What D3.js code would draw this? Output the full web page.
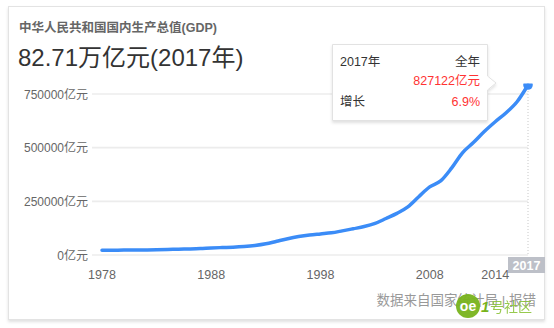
<!DOCTYPE html>
<html><head><meta charset="utf-8">
<script src="https://cdn.jsdelivr.net/npm/d3@7"></script>
<style>
html,body{margin:0;padding:0;background:#fff;}
svg{display:block;font-family:"Liberation Sans",Arial,"Noto Sans CJK SC",sans-serif;}
</style></head>
<body><svg id="c" width="554" height="328"></svg>
<script>
const years = [1978,1979,1980,1981,1982,1983,1984,1985,1986,1987,1988,1989,1990,1991,1992,1993,1994,1995,1996,1997,1998,1999,2000,2001,2002,2003,2004,2005,2006,2007,2008,2009,2010,2011,2012,2013,2014,2015,2016,2017];
const gdp = [3679,4100,4588,4936,5373,6021,7279,9099,10376,12175,15180,17180,18873,22006,27195,35673,48638,61340,71814,79715,85196,90564,100280,110863,121717,137422,161840,187319,219439,270232,319516,349081,413030,489301,540367,595244,643974,689052,743586,827122];
const yTicks = [0,250000,500000,750000];
const xTickYears = [1978,1988,1998,2008,2014];
const title = "中华人民共和国国内生产总值(GDP)";
const headline = "82.71万亿元(2017年)";
const tipYear = "2017年", tipPeriod = "全年", tipValue = "827122亿元", tipGrowthLabel = "增长", tipGrowth = "6.9%";
const lastYearLabel = "2017";
const source = "数据来自国家统计局 | 报错";

const svg = d3.select("#c");
const defs = svg.append("defs");
const sh = defs.append("filter").attr("id","sh").attr("x","-10%").attr("y","-10%").attr("width","120%").attr("height","130%");
sh.append("feDropShadow").attr("dx",0).attr("dy",2).attr("stdDeviation",1.5).attr("flood-color","#000").attr("flood-opacity",0.12);

// card
svg.append("rect").attr("x",8.5).attr("y",6.5).attr("width",536).attr("height",313)
  .attr("fill","#fff").attr("stroke","#e3e3e3").attr("filter","url(#sh)");

svg.append("text").attr("x",19).attr("y",32).attr("font-size",12.5).attr("font-weight","bold")
  .attr("fill","#666").text(title);
svg.append("text").attr("x",18).attr("y",66).attr("font-size",24)
  .attr("fill","#333").text(headline);

const x = d3.scaleLinear().domain([1978,2017]).range([102,528]);
const yGrid = d3.scaleLinear().domain([0,750000]).range([255,94]);
const yLine = d3.scaleLinear().domain([0,827122]).range([251,85]);

// grid
const g = svg.append("g");
g.selectAll("line.grid").data(yTicks).join("line")
  .attr("x1",92).attr("x2",x(2017)).attr("y1",d=>yGrid(d)).attr("y2",d=>yGrid(d))
  .attr("stroke","#ececec").attr("stroke-width",1.6);
g.selectAll("text.yl").data(yTicks).join("text")
  .attr("x",88).attr("y",d=>yGrid(d)+4.5).attr("text-anchor","end")
  .attr("font-size",12).attr("fill","#666").text(d=>d+"亿元");

g.selectAll("text.xl").data(xTickYears).join("text")
  .attr("x",d=>x(d)).attr("y",279).attr("text-anchor","middle")
  .attr("font-size",12.5).attr("fill","#666").text(d=>d);

// vertical dotted line at last point
svg.append("line").attr("x1",x(2017)).attr("x2",x(2017)).attr("y1",yLine(827122)+3).attr("y2",255)
  .attr("stroke","#c8c8c8").attr("stroke-width",1).attr("stroke-dasharray","1,2");

// clip
defs.append("clipPath").attr("id","clp").append("rect").attr("x",90).attr("y",83.5).attr("width",450).attr("height",180);

const line = d3.line().x((d,i)=>x(years[i])).y(d=>yLine(d)).curve(d3.curveMonotoneX);
const lg = svg.append("g").attr("clip-path","url(#clp)");
lg.append("path").datum(gdp).attr("d",line).attr("fill","none")
  .attr("stroke","#3b8cf7").attr("stroke-width",3.5).attr("stroke-linecap","round").attr("stroke-linejoin","round");
lg.append("circle").attr("cx",x(2017)).attr("cy",yLine(827122)).attr("r",4.8).attr("fill","#3b8cf7");

// last year box
svg.append("rect").attr("x",508).attr("y",257).attr("width",37).attr("height",16).attr("fill","#bdc0c8");
svg.append("text").attr("x",526.5).attr("y",270).attr("text-anchor","middle").attr("font-size",12.5)
  .attr("font-weight","bold").attr("fill","#fff").text(lastYearLabel);

// tooltip
const tg = svg.append("g");
tg.append("path").attr("d","M332.5,44.5 H487.5 V76 L496,83 L487.5,90 V120.5 H332.5 Z")
  .attr("fill","#fff").attr("stroke","#e2e2e2").attr("filter","url(#sh)");
tg.append("text").attr("x",340).attr("y",66).attr("font-size",12.5).attr("fill","#333").text(tipYear);
tg.append("text").attr("x",480).attr("y",66).attr("text-anchor","end").attr("font-size",12.5).attr("fill","#333").text(tipPeriod);
tg.append("text").attr("x",480).attr("y",85).attr("text-anchor","end").attr("font-size",12.5).attr("fill","#f33").text(tipValue);
tg.append("text").attr("x",340).attr("y",106).attr("font-size",12.5).attr("fill","#333").text(tipGrowthLabel);
tg.append("text").attr("x",480).attr("y",106).attr("text-anchor","end").attr("font-size",12.5).attr("fill","#f33").text(tipGrowth);

// source
svg.append("text").attr("x",536).attr("y",305).attr("text-anchor","end").attr("font-size",13.5)
  .attr("fill","#999").text(source);

// watermark
const wm = svg.append("g");
wm.append("circle").attr("cx",468).attr("cy",306).attr("r",12).attr("fill","#78b31c").attr("opacity",0.95);
wm.append("text").attr("x",468).attr("y",311).attr("text-anchor","middle").attr("font-size",14)
  .attr("font-weight","bold").attr("fill","#fff").text("oe");
wm.append("text").attr("x",481).attr("y",312).attr("font-size",15).attr("font-style","italic")
  .attr("font-weight","bold").attr("fill","#78b31c").text("1");
wm.append("text").attr("x",490).attr("y",312).attr("font-size",14)
  .attr("fill","#8cc43a").attr("opacity",0.9).text("号社区");
</script></body></html>
